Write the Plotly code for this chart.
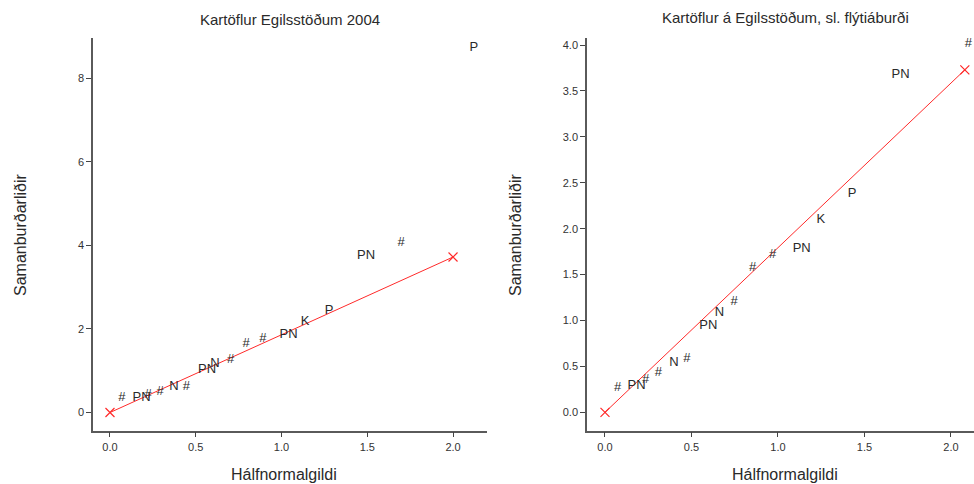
import plotly.graph_objects as go

# Half-normal plot, 2004 data
left_hn = [0.070, 0.184, 0.222, 0.292, 0.373, 0.446, 0.566, 0.612, 0.703,
           0.793, 0.892, 1.041, 1.137, 1.277, 1.493, 1.697, 2.122]
left_eff = [0.36, 0.36, 0.43, 0.50, 0.61, 0.62, 1.03, 1.17, 1.26,
            1.64, 1.77, 1.87, 2.18, 2.44, 3.76, 4.07, 8.72]
left_lab = ["#", "PN", "#", "#", "N", "#", "PN", "N", "#",
            "#", "#", "PN", "K", "P", "PN", "#", "P"]
left_line_x = [0.0, 2.0]
left_line_y = [0.0, 3.72]

# Half-normal plot, floating cover
right_hn = [0.073, 0.183, 0.235, 0.308, 0.399, 0.474, 0.597, 0.661,
            0.747, 0.854, 0.969, 1.137, 1.247, 1.429, 1.709, 2.100]
right_eff = [0.27, 0.29, 0.36, 0.43, 0.54, 0.58, 0.94, 1.09,
             1.20, 1.58, 1.72, 1.78, 2.10, 2.38, 3.68, 4.01]
right_lab = ["#", "PN", "#", "#", "N", "#", "PN", "N",
             "#", "#", "#", "PN", "K", "P", "PN", "#"]
right_line_x = [0.0, 2.08]
right_line_y = [0.0, 3.73]

left_title = "Kartöflur Egilsstöðum 2004"
right_title = "Kartöflur á Egilsstöðum, sl. flýtiáburði"
x_title = "Hálfnormalgildi"
y_title = "Samanburðarliðir"

FONT = "Liberation Sans, Arial, sans-serif"
TXT = "#2a2a2a"
RED = "#ff2a2a"

fig = go.Figure()


def add_panel(xs, ys, labs, lx, ly, xa, ya):
    fig.add_trace(go.Scatter(
        x=lx, y=ly, mode="lines+markers", xaxis=xa, yaxis=ya,
        line=dict(color=RED, width=1),
        marker=dict(symbol="x-thin-open", size=9,
                    line=dict(color=RED, width=1.2)),
        hoverinfo="skip", showlegend=False))
    fig.add_trace(go.Scatter(
        x=xs, y=ys, text=labs, mode="text", xaxis=xa, yaxis=ya,
        textposition="middle center",
        textfont=dict(family=FONT, size=13, color=TXT),
        showlegend=False))


add_panel(left_hn, left_eff, left_lab, left_line_x, left_line_y, "x", "y")
add_panel(right_hn, right_eff, right_lab, right_line_x, right_line_y, "x2", "y2")

W, H = 974, 484
y_dom = [(H - 430.5) / H, (H - 38) / H]

axis_common = dict(
    showline=True, linecolor="#5a5a5a", linewidth=1.6,
    ticks="outside", ticklen=5, tickwidth=1, tickcolor="#444",
    showgrid=False, zeroline=False,
    tickfont=dict(family=FONT, size=11, color="#333"),
)

fig.update_layout(
    width=W, height=H,
    margin=dict(l=0, r=0, t=0, b=0),
    paper_bgcolor="white", plot_bgcolor="white",
    font=dict(family=FONT, color=TXT),
    xaxis=dict(domain=[93 / W, 487 / W], range=[-0.099, 2.198],
               tickvals=[0, 0.5, 1.0, 1.5, 2.0], tickformat=".1f",
               anchor="y", **axis_common),
    yaxis=dict(domain=y_dom, range=[-0.43, 8.96],
               tickvals=[0, 2, 4, 6, 8], tickformat="d",
               anchor="x", **axis_common),
    xaxis2=dict(domain=[587 / W, 1.0], range=[-0.104, 2.133],
                tickvals=[0, 0.5, 1.0, 1.5, 2.0], tickformat=".1f",
                anchor="y2", **axis_common),
    yaxis2=dict(domain=y_dom, range=[-0.198, 4.077],
                tickvals=[0, 0.5, 1.0, 1.5, 2.0, 2.5, 3.0, 3.5, 4.0],
                tickformat=".1f", anchor="x2", **axis_common),
)

annos = [
    dict(text=left_title, x=290 / W, y=(H - 20) / H, size=15),
    dict(text=right_title, x=785 / W, y=(H - 18) / H, size=15),
    dict(text=x_title, x=284 / W, y=(H - 474) / H, size=16),
    dict(text=x_title, x=785 / W, y=(H - 474) / H, size=16),
]
for a in annos:
    fig.add_annotation(text=a["text"], x=a["x"], y=a["y"], xref="paper",
                       yref="paper", showarrow=False, xanchor="center",
                       yanchor="middle",
                       font=dict(family=FONT, size=a["size"], color=TXT))
for xp in (20, 515):
    fig.add_annotation(text=y_title, x=xp / W, y=(H - 235) / H, xref="paper",
                       yref="paper", showarrow=False, textangle=-90,
                       xanchor="center", yanchor="middle",
                       font=dict(family=FONT, size=16, color=TXT))

fig.write_html("out.html")
